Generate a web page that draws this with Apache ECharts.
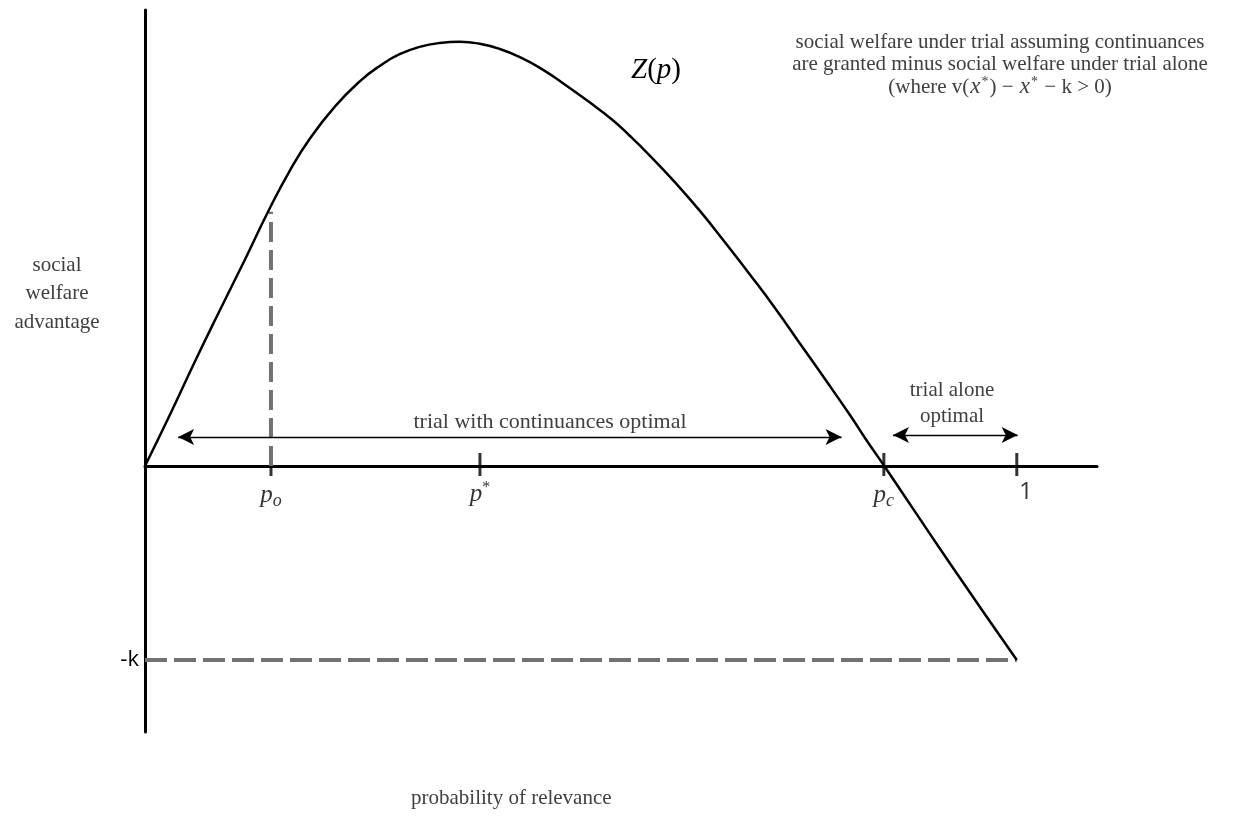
<!DOCTYPE html>
<html>
<head>
<meta charset="utf-8">
<title>Z(p)</title>
<script src="https://cdn.jsdelivr.net/npm/echarts@6/dist/echarts.min.js"></script>
<style>
  html, body { margin: 0; padding: 0; background: #fff; }
  #main { width: 1243px; height: 836px; }
</style>
</head>
<body>
<div id="main"></div>
<script>
// curve Z(p), p from 0 to 1, value in units of k
var curveP = [0, 0.029, 0.057, 0.086, 0.115, 0.141, 0.166, 0.189, 0.218, 0.247, 0.270, 0.292, 0.315, 0.338,
  0.361, 0.384, 0.407, 0.430, 0.453, 0.479, 0.510, 0.536, 0.556, 0.579, 0.608, 0.637, 0.665, 0.694,
  0.723, 0.751, 0.780, 0.809, 0.828, 0.848, 0.923, 1];
var curveZ = [0, 0.268, 0.536, 0.804, 1.067, 1.309, 1.521, 1.686, 1.853, 1.985, 2.064, 2.122, 2.160, 2.180,
  2.186, 2.176, 2.149, 2.107, 2.052, 1.974, 1.874, 1.784, 1.702, 1.600, 1.462, 1.312, 1.154, 0.986,
  0.812, 0.633, 0.448, 0.260, 0.130, 0, -0.5, -1];

// tick marks on the p axis
var tickP = [0.1445, 0.3842, 0.8475, 1];
var tickLabels = ['{i|p}{sub|o}', '{i|p}{sup|*}', '{i|p}{sub|c}', '{n|1}'];

// dashed guides
var poZ = 1.31;
var minusK = -1;

// range arrows
var arrowWith = [0.038, 0.799];
var arrowWithY = 0.149;
var arrowAlone = [0.858, 1.001];
var arrowAloneY = 0.16;

var chart = echarts.init(document.getElementById('main'));

var serif = '"Liberation Serif", "DejaVu Serif", serif';
var grey = '#767171';
var textGrey = '#404040';

var option = {
  animation: false,
  grid: { left: 145, right: 146, top: 10, bottom: 104 },
  xAxis: {
    type: 'value', min: 0, max: 1.092,
    axisLine: { onZero: true, lineStyle: { color: '#000', width: 3 } },
    axisTick: { show: false }, axisLabel: { show: false }, splitLine: { show: false }
  },
  yAxis: {
    type: 'value', min: -1.371, max: 2.35,
    axisLine: { show: true, onZero: false, lineStyle: { color: '#000', width: 3 } },
    axisTick: { show: false }, axisLabel: { show: false }, splitLine: { show: false }
  },
  series: [
    {
      type: 'line', name: 'po guide', symbol: 'none', silent: true,
      lineStyle: { color: grey, width: 4, type: [20, 8] },
      data: [[tickP[0], 0], [tickP[0], poZ]]
    },
    {
      type: 'line', name: '-k guide', symbol: 'none', silent: true,
      lineStyle: { color: grey, width: 4, type: [22, 7] },
      data: [[0, minusK], [1, minusK]]
    },
    {
      type: 'line', name: 'Z(p)', symbol: 'none', smooth: true,
      lineStyle: { color: '#000', width: 2.5, join: 'round' },
      data: curveP.map(function (p, i) { return [p, curveZ[i]]; }),
      markLine: {
        silent: true, symbol: ['arrow', 'arrow'], symbolSize: [12, 16],
        label: { show: false },
        lineStyle: { color: '#000', width: 1.4, type: 'solid' },
        data: [
          [{ coord: [arrowWith[0], arrowWithY] }, { coord: [arrowWith[1], arrowWithY] }],
          [{ coord: [arrowAlone[0], arrowAloneY] }, { coord: [arrowAlone[1], arrowAloneY] }]
        ]
      }
    },
    {
      type: 'scatter', name: 'ticks', symbol: 'rect', symbolSize: [3, 23], symbolOffset: [0, -1.5],
      itemStyle: { color: '#000' },
      data: tickP.map(function (p) { return [p, 0]; }),
      label: {
        show: true, position: 'bottom', distance: 4, color: '#000',
        formatter: function (d) { return tickLabels[d.dataIndex]; },
        rich: {
          i: { fontFamily: serif, fontStyle: 'italic', fontSize: 25, color: '#000' },
          sub: { fontFamily: serif, fontStyle: 'italic', fontSize: 18, color: '#000', padding: [12, 0, 0, 0] },
          sup: { fontFamily: serif, fontSize: 16, color: '#000', padding: [0, 0, 12, 0] },
          n: { fontFamily: '"Open Sans", sans-serif', fontSize: 24, color: '#000', padding: [0, 0, 0, 18] }
        }
      }
    }
  ],
  graphic: [
    { type: 'text', left: 631, top: 56,
      style: {
        text: '{i|Z}{n|(}{i|p}{n|)}',
        rich: {
          i: { fontFamily: serif, fontStyle: 'italic', fontSize: 29, fill: '#000' },
          n: { fontFamily: serif, fontSize: 29, fill: '#000' }
        }
      } },
    { type: 'text', x: 1000, y: 31,
      style: {
        text: 'social welfare under trial assuming continuances\nare granted minus social welfare under trial alone\n(where v({i|x}{sup|*}) − {i|x}{sup|*} − k > 0)',
        align: 'center', font: '21px ' + serif, fill: textGrey, lineHeight: 22.5,
        rich: {
          i: { fontFamily: serif, fontStyle: 'italic', fontSize: 23, fill: textGrey, padding: [0, 1, 0, 1] },
          sup: { fontFamily: serif, fontSize: 14, fill: textGrey, padding: [0, 1, 9, 0] }
        }
      } },
    { type: 'text', x: 57, y: 251,
      style: { text: 'social\nwelfare\nadvantage', align: 'center', font: '21px ' + serif,
        fill: textGrey, lineHeight: 28.5 } },
    { type: 'text', x: 550, y: 411,
      style: { text: 'trial with continuances optimal', align: 'center', font: '22px ' + serif, fill: textGrey } },
    { type: 'text', x: 952, y: 377,
      style: { text: 'trial alone\noptimal', align: 'center', font: '21px ' + serif, fill: textGrey, lineHeight: 26 } },
    { type: 'text', x: 411, y: 788,
      style: { text: 'probability of relevance', align: 'left', font: '21px ' + serif, fill: textGrey } },
    { type: 'text', x: 139, y: 660,
      style: { text: '-k', align: 'right', verticalAlign: 'middle', font: '22px "Open Sans", sans-serif', fill: '#000' } }
  ]
};

chart.setOption(option);
</script>
</body>
</html>
